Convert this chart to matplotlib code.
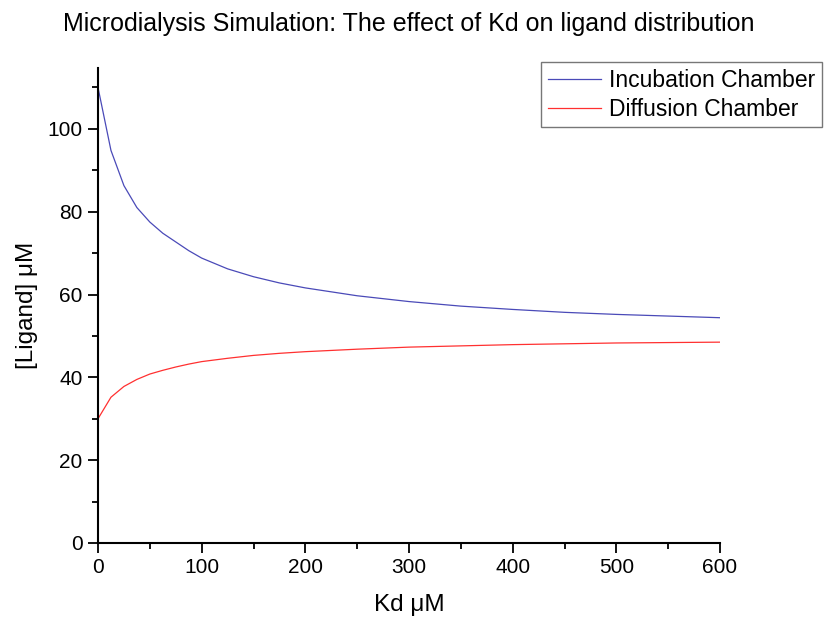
import matplotlib.pyplot as plt
from matplotlib.ticker import MultipleLocator

plt.rcParams['font.family'] = ['Liberation Sans', 'DejaVu Sans']

# Kd values (uM) and ligand concentrations (uM)
kd = [0, 12.5, 25, 37.5, 50, 62.5, 75, 87.5, 100, 125, 150, 175, 200,
      250, 300, 350, 400, 450, 500, 550, 600]
incubation = [110, 94.8, 86.3, 81.0, 77.5, 74.8, 72.7, 70.6, 68.8, 66.2,
              64.3, 62.8, 61.6, 59.7, 58.3, 57.2, 56.4, 55.7, 55.2, 54.8, 54.4]
diffusion = [30, 35.2, 37.8, 39.5, 40.8, 41.7, 42.5, 43.2, 43.8, 44.6,
             45.3, 45.8, 46.2, 46.8, 47.3, 47.6, 47.9, 48.1, 48.3, 48.4, 48.5]


def main():
    fig = plt.figure(figsize=(8.26, 6.17), dpi=100)
    ax = fig.add_axes([98/826, 1 - 543/617, (720-98)/826, (543-68)/617])

    ax.plot(kd, incubation, color='#4a4ab8', lw=0.9, label='Incubation Chamber')
    ax.plot(kd, diffusion, color='#ff3030', lw=0.9, label='Diffusion Chamber')

    ax.set_xlim(0, 600)
    ax.set_ylim(0, 114.7)
    ax.xaxis.set_major_locator(MultipleLocator(100))
    ax.xaxis.set_minor_locator(MultipleLocator(50))
    ax.yaxis.set_major_locator(MultipleLocator(20))
    ax.yaxis.set_minor_locator(MultipleLocator(10))
    ax.tick_params(which='major', direction='out', length=7, width=1.3,
                   labelsize=15, pad=4)
    ax.tick_params(which='minor', direction='out', length=4, width=1.3)

    for s in ['top', 'right']:
        ax.spines[s].set_visible(False)
    for s in ['left', 'bottom']:
        ax.spines[s].set_linewidth(1.5)

    ax.set_xlabel('Kd μM', fontsize=17.5, labelpad=12)
    ax.set_ylabel('[Ligand] μM', fontsize=17.5, labelpad=7)
    ax.set_title('Microdialysis Simulation: The effect of Kd on ligand distribution',
                 fontsize=18, pad=27)

    leg = ax.legend(loc='upper right', bbox_to_anchor=(822/826, 1 - 62/617),
                    bbox_transform=fig.transFigure, fontsize=16.5, fancybox=False,
                    handlelength=2.3, borderpad=0.3, labelspacing=0.25,
                    handletextpad=0.35, borderaxespad=0)
    leg.get_frame().set_edgecolor('#555555')
    leg.get_frame().set_linewidth(1.0)

    fig.savefig('out.png', dpi=100)


if __name__ == "__main__":
    main()
